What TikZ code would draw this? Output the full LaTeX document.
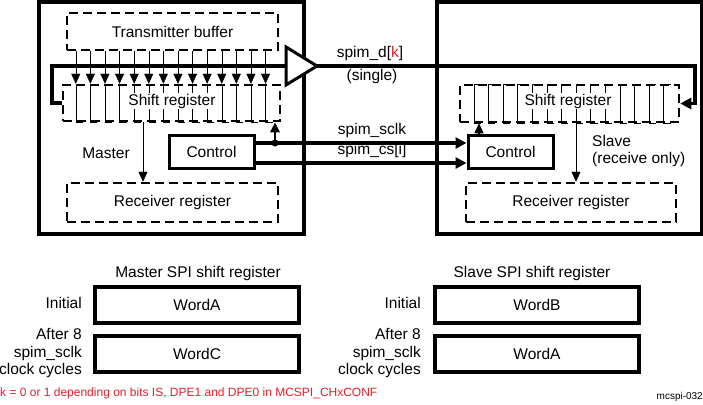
\documentclass[tikz,border=0pt]{standalone}
\usepackage{fontspec}
\setmainfont{Liberation Sans}
\usetikzlibrary{arrows.meta}
\definecolor{notered}{RGB}{232,30,40}
\begin{document}
\begin{tikzpicture}[x=1pt,y=-1pt,
        every node/.style={font=\fontsize{15.5}{17.5}\selectfont,inner sep=0pt},
        unit/.style={draw,line width=4pt,minimum width=265pt,minimum height=232pt},
        regbox/.style={draw,line width=2.5pt,dash pattern=on 9pt off 5pt},
        ctrl/.style={draw,line width=3pt,minimum width=85pt,minimum height=33pt},
        wordbox/.style={draw,line width=3.5pt,minimum width=204pt,minimum height=36pt},
        bus/.style={line width=3.5pt},
        tip/.style={-{Triangle[width=9pt,length=10pt]}},
        bigtip/.style={-{Triangle[width=11pt,length=11pt]}}]
    \useasboundingbox (0,0) rectangle (703,404);
    % master and slave units
    \node[unit] (master) at (171.5,118) {};
    \node[unit] (slave) at (569,118) {};
    \node[regbox,minimum width=211pt,minimum height=37pt] (txbuf) at (172.5,31.5) {Transmitter buffer};
    \node[regbox,minimum width=217pt,minimum height=36pt] (mshift) at (171.5,103) {};
    \node[regbox,minimum width=219pt,minimum height=37pt] (sshift) at (569.5,103.5) {};
    \node[regbox,minimum width=211pt,minimum height=39pt] (mrecv) at (172.5,202.5) {Receiver register};
    \node[regbox,minimum width=210pt,minimum height=39pt] (srecv) at (571,202.5) {Receiver register};
    \node[ctrl] (mctrl) at (211.5,151.5) {Control};
    \node[ctrl] (sctrl) at (510.5,151.5) {Control};
    \node (mlbl) at (106,153) {Master};
    \node[anchor=west,align=left] (slbl) at (592,151) {Slave\\(receive only)};
    % shift register cells
    \foreach \dx in {10,24.6,...,201} {
        \draw[thin,tip] ([xshift=\dx pt]txbuf.south west) -- ([xshift=\dx pt]txbuf.south west |- mshift.north);
        \draw[thin] ([xshift=\dx pt]txbuf.south west |- mshift.north) -- ([xshift=\dx pt]txbuf.south west |- mshift.south)
            -- ++(7,0);
    }
    \foreach \dx in {15,29.6,...,206} {
        \draw[thin] ([xshift=\dx pt]sshift.north west) ++(7,0) -- ++(-7,0) -- ([xshift=\dx pt]sshift.south west) -- ++(7,0);
    }
    \node[fill=white,inner sep=1pt] (mshiftlbl) at (172,101) {Shift register};
    \node[fill=white,inner sep=1pt] (sshiftlbl) at (568,101) {Shift register};
    % data path
    \coordinate (bufin) at (286,66);
    \coordinate (bufout) at (317,66);
    \draw[bus] (bufin) -- ++(-234,0) |- (mshift.west);
    \draw[line width=3pt,fill=white] (bufin) ++(0,-19) -- (bufout) -- ++(-31,19) -- cycle;
    \draw[bus,bigtip] (bufout) -- ++(378,0) |- (sshift.east);
    \node (dlbl) at (370,53) {spim\_d[\textcolor{notered}{k}]};
    \node (singlelbl) at (372,76) {(single)};
    % clock and chip select
    \draw[bus,bigtip] ([yshift=8.5pt]mctrl.east) -- ([yshift=8.5pt]sctrl.west);
    \draw[bus,bigtip] ([yshift=-11.5pt]mctrl.east) -- ([yshift=-11.5pt]sctrl.west);
    \node (sclklbl) at (372,130) {spim\_sclk};
    \node (cslbl) at (372,150) {spim\_cs[i]};
    \coordinate (tap) at (275,143);
    \fill (tap) circle (3.5);
    \draw[line width=2.5pt,tip] (tap) -- (tap |- mshift.south);
    \draw[line width=1.5pt,tip] ([xshift=-31.5pt]sctrl.north) -- ([xshift=-31.5pt]sctrl.north |- sshift.south);
    % to receiver registers
    \draw[thin,tip] ([xshift=-28.5pt]mshift.south) -- ([xshift=-28.5pt]mshift.south |- mrecv.north);
    \draw[thin,tip] ([xshift=6.5pt]sshift.south) -- ([xshift=6.5pt]sshift.south |- srecv.north);
    % register contents
    \node (mtitle) at (198,273) {Master SPI shift register};
    \node (stitle) at (532,273) {Slave SPI shift register};
    \node[wordbox] (mword1) at (197,305) {WordA};
    \node[wordbox] (mword2) at (197,354) {WordC};
    \node[wordbox] (sword1) at (537,305) {WordB};
    \node[wordbox] (sword2) at (537,354) {WordA};
    \node[anchor=east] (minit) at (82,303) {Initial};
    \node[anchor=east,align=right] (mafter) at (82,353) {After 8\\spim\_sclk\\clock cycles};
    \node[anchor=east] (sinit) at (421,303) {Initial};
    \node[anchor=east,align=right] (safter) at (421,353) {After 8\\spim\_sclk\\clock cycles};
    \node[anchor=west,text=notered,font=\fontsize{12}{14}\selectfont] (note) at (0,393)
        {k = 0 or 1 depending on bits IS, DPE1 and DPE0 in MCSPI\_CHxCONF};
    \node[anchor=east,font=\fontsize{10}{12}\selectfont] (figid) at (703,397) {mcspi-032};
\end{tikzpicture}
\end{document}
